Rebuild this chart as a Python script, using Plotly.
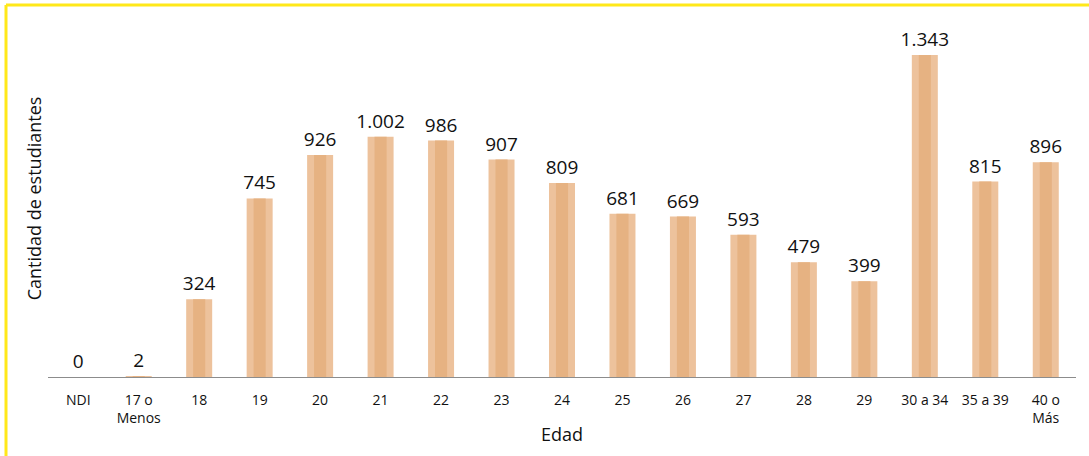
import plotly.graph_objects as go

categories = ["NDI", "17 o<br>Menos", "18", "19", "20", "21", "22", "23", "24", "25",
              "26", "27", "28", "29", "30 a 34", "35 a 39", "40 o<br>Más"]
values = [0, 2, 324, 745, 926, 1002, 986, 907, 809, 681, 669, 593, 479, 399, 1343, 815, 896]
labels = ["0", "2", "324", "745", "926", "1.002", "986", "907", "809", "681",
          "669", "593", "479", "399", "1.343", "815", "896"]

fig = go.Figure()
fig.add_trace(go.Bar(
    x=categories, y=values, width=0.43,
    marker=dict(color="#EDC29C", line=dict(width=0)),
    text=labels, textposition="outside", constraintext="none",
    textfont=dict(family="Open Sans", size=19, color="#111111"),
    cliponaxis=False, hoverinfo="skip",
))
fig.add_trace(go.Bar(
    x=categories, y=values, width=0.2,
    marker=dict(color="#E6B282", line=dict(width=0)),
    hoverinfo="skip",
))

fig.update_layout(
    width=1089, height=456,
    margin=dict(l=48, r=13, t=20, b=79),
    barmode="overlay",
    showlegend=False,
    paper_bgcolor="white", plot_bgcolor="white",
    font=dict(family="Open Sans", color="#222222"),
    xaxis=dict(
        showline=True, linecolor="#8c8c8c", linewidth=1,
        ticks="", tickfont=dict(size=14, color="#111111"), automargin=False,
        ticklabelstandoff=10,
        title=dict(text="Edad", font=dict(size=18, color="#111111"), standoff=2),
        fixedrange=True,
    ),
    yaxis=dict(
        range=[0, 1489], showticklabels=False, showgrid=False, zeroline=False,
        automargin=False,
        title=dict(text="Cantidad de estudiantes", font=dict(size=18, color="#111111"), standoff=0),
    ),
    shapes=[
        dict(type="line", xref="paper", yref="paper",
             x0=(6 - 48) / 1028, x1=(1089 - 48) / 1028 + 0.02,
             y0=(377 - 5) / 357, y1=(377 - 5) / 357,
             line=dict(color="#FFE81A", width=3)),
        dict(type="line", xref="paper", yref="paper",
             x0=(6 - 48) / 1028, x1=(6 - 48) / 1028,
             y0=(377 - 5) / 357, y1=-0.3,
             line=dict(color="#FFE81A", width=3)),
    ],
)

fig.write_html("out.html", config={"displayModeBar": False},
               post_script="document.body.style.margin='0';")
